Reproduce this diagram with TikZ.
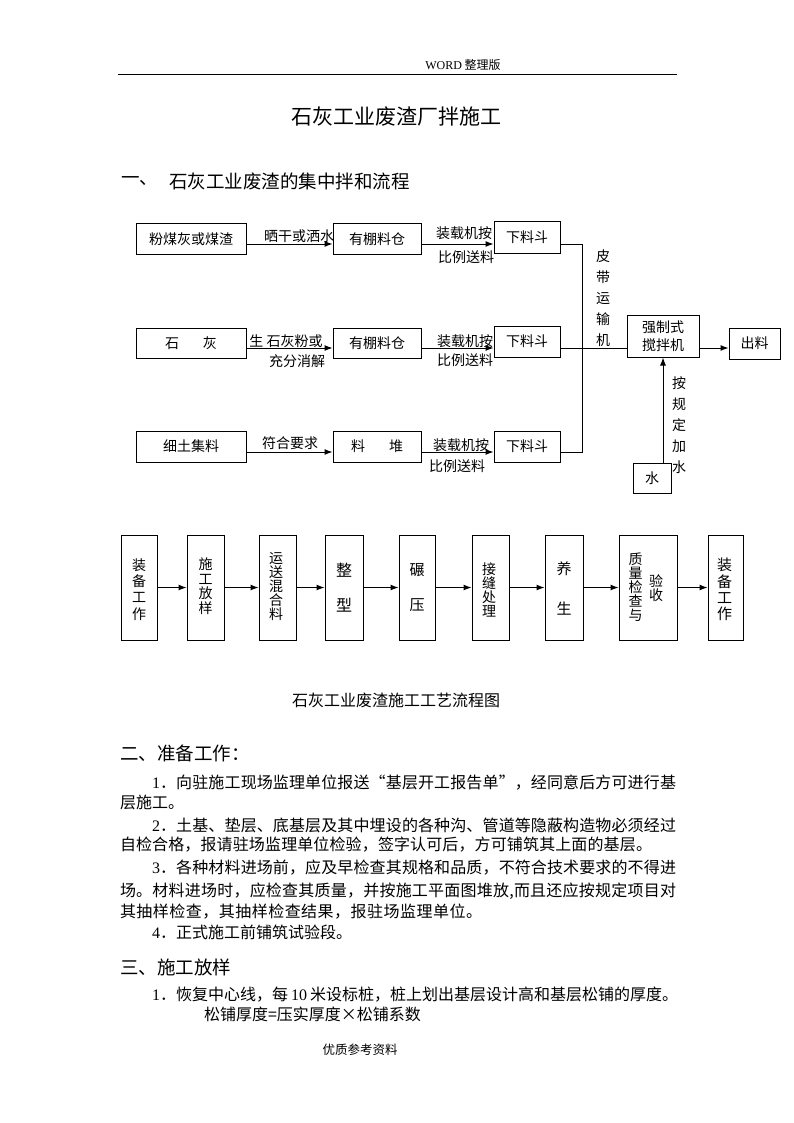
\documentclass[tikz,border=0pt]{standalone}
\usepackage{fontspec}
\setmainfont{Noto Sans CJK SC}
\newfontfamily\latfont{Liberation Serif}
\usetikzlibrary{arrows.meta}
\ExplSyntaxOn
\NewDocumentCommand\spreadtext{m}{
  \bool_set_true:N \l_tmpa_bool
  \tl_map_inline:nn {#1}
    {
      \bool_if:NTF \l_tmpa_bool
        { \bool_set_false:N \l_tmpa_bool }
        { \skip_horizontal:n { 0pt plus 1fil } }
      { ##1 }
    }
}
\ExplSyntaxOff
\newcommand\J[2]{\makebox[#1][s]{\spreadtext{#2}}}
\newcommand\fs[1]{\fontsize{#1}{#1}\selectfont}
\tikzset{
  box/.style={draw, line width=1pt, inner sep=0pt, font=\fs{14}},
  txt/.style={inner sep=0pt, outer sep=0pt},
  lbl/.style={inner sep=0pt, outer sep=0pt, font=\fs{14}},
  arr/.style={line width=1pt, -{Latex[length=8pt,width=6pt]}},
  ln/.style={line width=1pt},
  body/.style={inner sep=0pt, outer sep=0pt, anchor=west, font=\fs{16}},
  head/.style={inner sep=0pt, outer sep=0pt, anchor=west, font=\fs{18.5}}
}
\begin{document}
\begin{tikzpicture}[x=1pt,y=-1pt]
\useasboundingbox (0,0) rectangle (794,1123);
\fill[white] (0,0) rectangle (794,1123);

% header
\node[txt, font=\fs{12}] (hdr) at (463,65) {{\latfont WORD} 整理版};
\coordinate (hl) at (118,75);
\coordinate (hr) at (677,75);
\draw[ln] (hl) -- (hr);

% title
\node[txt, font=\fs{21}] (title) at (396,117) {石灰工业废渣厂拌施工};
\node[head] (h1a) at (121,181) {一、};
\node[head] (h1b) at (169,181) {石灰工业废渣的集中拌和流程};

% top flowchart boxes
\node[box, minimum width=110, minimum height=30] (a1) at (191,239) {粉煤灰或煤渣};
\node[box, minimum width=88, minimum height=30] (b1) at (377,239) {有棚料仓};
\node[box, minimum width=66, minimum height=31] (c1) at (527,237.5) {下料斗};
\node[box, minimum width=110, minimum height=30] (a2) at (191,343) {石\hspace{24pt}灰};
\node[box, minimum width=88, minimum height=30] (b2) at (377,343) {有棚料仓};
\node[box, minimum width=66, minimum height=31] (c2) at (527,341.5) {下料斗};
\node[box, minimum width=72, minimum height=42, align=center, font=\fontsize{14}{18}\selectfont] (mix) at (663,336) {强制式\\搅拌机};
\node[box, minimum width=51, minimum height=31] (out) at (754.5,343.5) {出料};
\node[box, minimum width=110, minimum height=31] (a3) at (191,446.5) {细土集料};
\node[box, minimum width=88, minimum height=31] (b3) at (377,446.5) {料\hspace{24pt}堆};
\node[box, minimum width=66, minimum height=31] (c3) at (527,446.5) {下料斗};
\node[box, minimum width=38, minimum height=30] (w) at (652,478) {水};

\coordinate (r1) at (0,244);
\coordinate (r2) at (0,348);
\coordinate (r3) at (0,452);
\coordinate (bus1) at (582,244);
\coordinate (bus3) at (582,452);

\draw[arr] (a1.east |- r1) -- (b1.west |- r1);
\draw[arr] (b1.east |- r1) -- (c1.west |- r1);
\draw[arr] (a2.east |- r2) -- (b2.west |- r2);
\draw[arr] (b2.east |- r2) -- (c2.west |- r2);
\draw[arr] (a3.east |- r3) -- (b3.west |- r3);
\draw[arr] (b3.east |- r3) -- (c3.west |- r3);
\draw[ln] (c1.east |- r1) -- (bus1) -- (bus3) -- (c3.east |- r3);
\draw[ln] (c2.east |- r2) -- (mix.west |- r2);
\draw[arr] (mix.east |- r2) -- (out.west |- r2);
\draw[arr] (w.north -| mix.south) -- (mix.south);

% labels
\node[lbl] (l1) at (299,236) {晒干或洒水};
\node[lbl] (l2) at (464,233) {装载机按};
\node[lbl] (l3) at (466,257) {比例送料};
\node[lbl] (l4) at (286,341) {生 石灰粉或};
\node[lbl] (l5) at (297,361) {充分消解};
\node[lbl] (l6) at (465,341) {装载机按};
\node[lbl] (l7) at (465,360) {比例送料};
\node[lbl] (l8) at (290,443) {符合要求};
\node[lbl] (l9) at (461,445) {装载机按};
\node[lbl] (l10) at (457,466) {比例送料};
\node[lbl, align=center, font=\fontsize{14}{21}\selectfont] (belt) at (603,298) {皮\\带\\运\\输\\机};
\node[lbl, align=center, font=\fontsize{14}{21}\selectfont] (addw) at (679,425) {按\\规\\定\\加\\水};

% second flowchart
\node[box, minimum width=36, minimum height=105] (s1) at (139,587.5) {};
\node[box, minimum width=37, minimum height=105] (s2) at (205.5,587.5) {};
\node[box, minimum width=37, minimum height=105] (s3) at (277.5,587.5) {};
\node[box, minimum width=38, minimum height=105] (s4) at (344,587.5) {};
\node[box, minimum width=36, minimum height=105] (s5) at (417,587.5) {};
\node[box, minimum width=37, minimum height=105] (s6) at (490.5,587.5) {};
\node[box, minimum width=38, minimum height=105] (s7) at (564,587.5) {};
\node[box, minimum width=58, minimum height=105] (s8) at (648,587.5) {};
\node[box, minimum width=35, minimum height=105] (s9) at (725.5,587.5) {};

\draw[arr] (s1.east) -- (s2.west);
\draw[arr] (s2.east) -- (s3.west);
\draw[arr] (s3.east) -- (s4.west);
\draw[arr] (s4.east) -- (s5.west);
\draw[arr] (s5.east) -- (s6.west);
\draw[arr] (s6.east) -- (s7.west);
\draw[arr] (s7.east) -- (s8.west);
\draw[arr] (s8.east) -- (s9.west);

\node[txt, align=center, font=\fontsize{14}{16.25}\selectfont] (t1) at (139,589.5) {装\\备\\工\\作};
\node[txt, align=center, font=\fontsize{14}{14.5}\selectfont] (t2) at (205.5,586) {施\\工\\放\\样};
\node[txt, align=center, font=\fontsize{14}{14}\selectfont] (t3) at (276,587) {运\\送\\混\\合\\料};
\node[txt, align=center, font=\fontsize{16}{35}\selectfont] (t4) at (344,587.5) {整\\型};
\node[txt, align=center, font=\fontsize{15}{35}\selectfont] (t5) at (417,587.5) {碾\\压};
\node[txt, align=center, font=\fontsize{14}{14}\selectfont] (t6) at (489,590) {接\\缝\\处\\理};
\node[txt, align=center, font=\fontsize{15}{40}\selectfont] (t7) at (564,588) {养\\生};
\node[txt, align=center, font=\fontsize{14}{14}\selectfont] (t8a) at (635.5,587) {质\\量\\检\\查\\与};
\node[txt, align=center, font=\fontsize{14}{14.5}\selectfont] (t8b) at (656,588) {验\\收};
\node[txt, align=center, font=\fontsize{15}{16.25}\selectfont] (t9) at (724.5,589.5) {装\\备\\工\\作};

\node[txt, font=\fs{16}] (cap) at (396,700) {石灰工业废渣施工工艺流程图};

% text body
\node[head] (h2) at (120,753) {二、准备工作：};
\node[body] (p1) at (152,783) {\J{524pt}{{\latfont 1}．向驻施工现场监理单位报送“基层开工报告单”，经同意后方可进行基}};
\node[body] (p2) at (120,802) {层施工。};
\node[body] (p3) at (152,825) {\J{524pt}{{\latfont 2}．土基、垫层、底基层及其中埋设的各种沟、管道等隐蔽构造物必须经过}};
\node[body] (p4) at (120,845) {\J{532pt}{自检合格，报请驻场监理单位检验，签字认可后，方可铺筑其上面的基层。}};
\node[body] (p5) at (152,868) {\J{524pt}{{\latfont 3}．各种材料进场前，应及早检查其规格和品质，不符合技术要求的不得进}};
\node[body] (p6) at (120,891) {\J{556pt}{场。材料进场时，应检查其质量，并按施工平面图堆放,而且还应按规定项目对}};
\node[body] (p7) at (120,912) {\J{362pt}{其抽样检查，其抽样检查结果，报驻场监理单位。}};
\node[body] (p8) at (152,932) {{\latfont 4}．正式施工前铺筑试验段。};
\node[head] (h3) at (120,967) {三、施工放样};
\node[body] (p9) at (152,995) {\J{526pt}{{\latfont 1}．恢复中心线，每{\latfont\ 10\ }米设标桩，桩上划出基层设计高和基层松铺的厚度。}};
\node[body] (p10) at (204,1014) {松铺厚度=压实厚度×松铺系数};

\node[txt, font=\fs{12.5}] (foot) at (360,1050) {优质参考资料};
\end{tikzpicture}
\end{document}
